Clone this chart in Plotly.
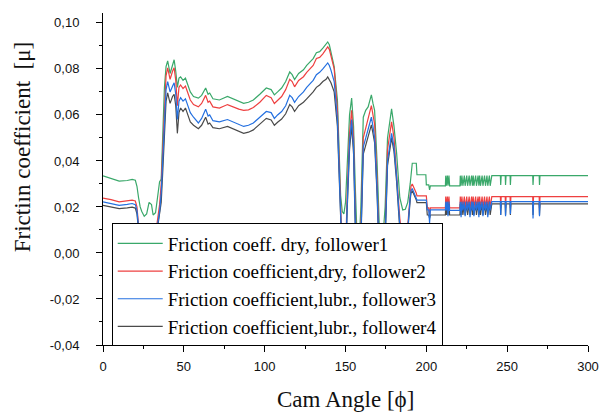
import plotly.graph_objects as go

# ---------------- data ----------------
angle = [
    0, 5, 10, 15, 18, 20, 21, 22, 23, 24,
    25.5, 27, 28.5, 30, 31, 32.5, 34, 35, 36, 37,
    38, 39, 40, 41.5, 43, 44, 45, 46, 47, 48,
    49.5, 51, 52, 54, 56, 59, 61, 63.5, 65, 66,
    68, 72, 77, 80, 84, 87, 90, 93, 97, 101,
    104, 106, 108, 110.5, 113, 115.5, 117, 118.5, 121, 124,
    126, 128, 130, 132, 134, 136, 138, 139, 140, 141,
    143, 145, 146, 147, 148, 149, 150, 151, 152.5, 153.8,
    155, 156, 157, 158.5, 159.5, 161, 162.5, 164, 166, 167,
    168, 169.5, 171, 173, 174.5, 176, 178.5, 180, 181.6, 183.6,
    185.4, 187, 188.5, 190, 190.5, 191.3, 193, 193.8, 194.2, 199.7,
    200, 200.6, 201.5, 202, 202.5, 211.8,
    212, 212.4, 213, 213.4, 214, 214.4, 220.8, 221, 221.5, 222,
    222.6, 223.5, 224, 225, 225.5, 226.5, 227, 228, 228.5, 229,
    229.4, 230.5, 231, 232, 232.5, 233, 233.5, 234.5, 235, 236,
    236.6, 237.5, 238, 239, 239.5, 240.5, 245.8, 246, 246.3, 248.8,
    249, 249.3, 251.8, 252, 252.3, 265.8, 266, 266.3, 269.8, 270,
    270.3, 300,
]

mu_dry_f1 = [
    .0335, .0325, .0312, .0315, .0320, .0316, .0290, .0240, .0200, .0180,
    .0160, .0170, .0220, .0210, .0165, .0175, .0260, .0310, .0320, .0500,
    .0720, .0810, .0835, .0780, .0820, .0840, .0790, .0720, .0760, .0765,
    .0750, .0760, .0740, .0700, .0680, .0673, .0685, .0717, .0690, .0695,
    .0670, .0665, .0680, .0670, .0660, .0650, .0655, .0665, .0690, .0717,
    .0710, .0687, .0700, .0717, .0745, .0787, .0775, .0754, .0780, .0796,
    .0815, .0830, .0845, .0870, .0875, .0890, .0905, .0917, .0905, .0870,
    .0810, .0665, .0450, .0250, .0180, .0170, .0220, .0400, .0600, .0673,
    .0550, .0300, .0100, .0050, .0200, .0590, .0620, .0635, .0687, .0650,
    .0620, .0400, .0100, .0050, .0200, .0500, .0626, .0550, .0435, .0240,
    .0187, .0190, .0220, .0300, .0340, .0390, .0390, .0390, .0340, .0340,
    .0296, .0296, .0296, .0274, .0292, .0292,
    .0336, .0292, .0336, .0292, .0336, .0292, .0292, .0336, .0292, .0336,
    .0292, .0336, .0292, .0336, .0292, .0336, .0292, .0336, .0292, .0336,
    .0292, .0336, .0292, .0336, .0292, .0336, .0292, .0336, .0292, .0336,
    .0292, .0336, .0292, .0336, .0292, .0336, .0336, .0296, .0336, .0336,
    .0296, .0336, .0336, .0296, .0336, .0336, .0296, .0336, .0336, .0296,
    .0336, .0336,
]

mu_dry_f2 = [
    .0238, .0232, .0222, .0226, .0230, .0226, .0200, .0120, .0040, .0000,
    -.0020, -.0020, .0000, .0000, .0020, .0080, .0160, .0210, .0300, .0450,
    .0660, .0770, .0804, .0755, .0790, .0805, .0750, .0640, .0720, .0730,
    .0715, .0725, .0705, .0665, .0645, .0635, .0650, .0685, .0655, .0660,
    .0635, .0630, .0645, .0635, .0625, .0620, .0622, .0632, .0655, .0685,
    .0675, .0650, .0665, .0680, .0710, .0755, .0745, .0722, .0750, .0766,
    .0785, .0800, .0815, .0845, .0850, .0865, .0885, .0896, .0885, .0860,
    .0800, .0620, .0400, .0150, .0000, -.0050, -.0020, .0250, .0520, .0620,
    .0500, .0200, .0000, -.0060, .0100, .0500, .0540, .0580, .0640, .0600,
    .0560, .0320, .0000, -.0040, .0100, .0450, .0570, .0500, .0360, .0150,
    .0050, .0030, .0120, .0260, .0290, .0300, .0275, .0260, .0248, .0248,
    .0248, .0196, .0196, .0160, .0196, .0196,
    .0245, .0196, .0245, .0196, .0245, .0196, .0196, .0245, .0196, .0245,
    .0196, .0245, .0196, .0245, .0196, .0245, .0196, .0245, .0196, .0245,
    .0196, .0245, .0196, .0245, .0196, .0245, .0196, .0245, .0196, .0245,
    .0196, .0245, .0196, .0245, .0196, .0245, .0245, .0196, .0245, .0245,
    .0196, .0245, .0245, .0196, .0245, .0245, .0196, .0245, .0245, .0196,
    .0245, .0245,
]

mu_lubr_f3 = [
    .0222, .0216, .0207, .0211, .0215, .0210, .0185, .0110, .0020, -.0020,
    -.0040, -.0040, -.0020, -.0020, .0000, .0060, .0140, .0180, .0260, .0400,
    .0600, .0710, .0745, .0700, .0725, .0740, .0690, .0580, .0660, .0675,
    .0660, .0670, .0650, .0610, .0590, .0565, .0585, .0625, .0595, .0600,
    .0575, .0570, .0580, .0570, .0560, .0550, .0555, .0565, .0590, .0615,
    .0610, .0585, .0600, .0615, .0640, .0685, .0675, .0655, .0680, .0700,
    .0720, .0735, .0750, .0775, .0785, .0800, .0815, .0826, .0815, .0795,
    .0745, .0580, .0370, .0120, -.0030, -.0080, -.0050, .0200, .0480, .0580,
    .0460, .0150, -.0040, -.0080, .0060, .0460, .0500, .0540, .0590, .0550,
    .0500, .0280, -.0040, -.0060, .0060, .0400, .0520, .0460, .0330, .0120,
    .0030, .0010, .0100, .0240, .0270, .0280, .0255, .0240, .0230, .0230,
    .0230, .0187, .0187, .0130, .0187, .0187,
    .0223, .0185, .0223, .0160, .0223, .0185, .0185, .0223, .0155, .0223,
    .0185, .0223, .0160, .0223, .0185, .0223, .0155, .0223, .0185, .0223,
    .0160, .0223, .0185, .0223, .0155, .0223, .0185, .0223, .0160, .0223,
    .0185, .0223, .0155, .0223, .0185, .0223, .0223, .0165, .0223, .0223,
    .0160, .0223, .0223, .0170, .0223, .0223, .0150, .0223, .0223, .0160,
    .0223, .0223,
]

mu_lubr_f4 = [
    .0207, .0201, .0193, .0196, .0199, .0195, .0170, .0100, .0010, -.0030,
    -.0050, -.0050, -.0030, -.0030, -.0010, .0050, .0120, .0160, .0220, .0360,
    .0550, .0660, .0696, .0650, .0680, .0690, .0640, .0520, .0610, .0630,
    .0615, .0630, .0610, .0570, .0555, .0540, .0555, .0590, .0560, .0565,
    .0545, .0540, .0550, .0540, .0530, .0520, .0525, .0535, .0560, .0585,
    .0578, .0555, .0568, .0582, .0605, .0645, .0635, .0615, .0640, .0655,
    .0670, .0685, .0700, .0720, .0730, .0745, .0755, .0765, .0755, .0740,
    .0700, .0550, .0350, .0100, -.0040, -.0090, -.0060, .0180, .0450, .0550,
    .0430, .0120, -.0050, -.0090, .0040, .0430, .0470, .0510, .0557, .0520,
    .0480, .0260, -.0050, -.0080, .0040, .0380, .0500, .0440, .0310, .0100,
    .0020, .0000, .0090, .0230, .0260, .0270, .0245, .0230, .0219, .0219,
    .0219, .0165, .0165, .0150, .0165, .0165,
    .0213, .0165, .0213, .0165, .0213, .0165, .0165, .0213, .0165, .0213,
    .0165, .0213, .0165, .0213, .0165, .0213, .0165, .0213, .0165, .0213,
    .0165, .0213, .0165, .0213, .0165, .0213, .0165, .0213, .0165, .0213,
    .0165, .0213, .0165, .0213, .0165, .0213, .0213, .0165, .0213, .0213,
    .0165, .0213, .0213, .0165, .0213, .0213, .0165, .0213, .0213, .0165,
    .0213, .0213,
]

series_names = [
    "Friction coeff. dry, follower1",
    "Friction coefficient,dry, follower2",
    "Friction coefficient,lubr., follower3",
    "Friction coefficient,lubr., follower4",
]
series_colors = ["#3aa86a", "#ee4040", "#2470e0", "#4a4a4a"]

x_ticks = [0, 50, 100, 150, 200, 250, 300]
y_ticks = [-0.04, -0.02, 0.0, 0.02, 0.04, 0.06, 0.08, 0.10]
y_tick_labels = ["-0,04", "-0,02", "0,00", "0,02", "0,04", "0,06", "0,08", "0,10"]

for s in (mu_dry_f1, mu_dry_f2, mu_lubr_f3, mu_lubr_f4):
    assert len(s) == len(angle), (len(s), len(angle))

# ---------------- figure ----------------
values = [mu_dry_f1, mu_dry_f2, mu_lubr_f3, mu_lubr_f4]
draw_order = [0, 1, 3, 2]

fig = go.Figure()
for i in draw_order:
    fig.add_trace(go.Scatter(
        x=angle, y=values[i], mode="lines", name=series_names[i],
        line=dict(color=series_colors[i], width=1.2),
        legendrank=i + 1,
    ))

axis_font = dict(family="Liberation Sans, Arial, sans-serif", size=13, color="#111")
serif = "Liberation Serif, Times New Roman, serif"

fig.update_layout(
    width=611, height=412,
    margin=dict(l=103, r=15, t=13, b=67),
    paper_bgcolor="white", plot_bgcolor="white",
    showlegend=True,
    legend=dict(
        x=0.018, y=0.366, xanchor="left", yanchor="top",
        bgcolor="white", bordercolor="black", borderwidth=1,
        font=dict(family=serif, size=19, color="black"),
        itemwidth=45, tracegroupgap=0,
    ),
    xaxis=dict(
        range=[0, 300], tickvals=x_ticks, ticks="outside", ticklen=6,
        tickcolor="black", tickwidth=1, showline=True, linecolor="black", linewidth=1,
        showgrid=False, zeroline=False, tickfont=axis_font, ticklabelstandoff=3,
        minor=dict(ticks="outside", ticklen=3, dtick=25, tick0=0, tickcolor="black", showgrid=False),
    ),
    yaxis=dict(
        range=[-0.04, 0.1043], tickvals=y_ticks, ticktext=y_tick_labels,
        ticks="outside", ticklen=6, tickcolor="black", tickwidth=1,
        showline=True, linecolor="black", linewidth=1,
        showgrid=False, zeroline=False, tickfont=axis_font, ticklabelstandoff=14,
        minor=dict(ticks="outside", ticklen=3, dtick=0.01, tick0=0, tickcolor="black", showgrid=False),
    ),
    annotations=[
        dict(text="Cam Angle [ϕ]", xref="paper", yref="paper", x=0.5, y=-0.163,
             xanchor="center", yanchor="middle", showarrow=False,
             font=dict(family=serif, size=23, color="#111")),
        dict(text="Frictiın coefficient  [μ]", xref="paper", yref="paper", x=-0.166, y=0.597,
             xanchor="center", yanchor="middle", textangle=-90, showarrow=False,
             font=dict(family=serif, size=23, color="#111")),
    ],
)

fig.write_html("out.html", config={"displayModeBar": False})
